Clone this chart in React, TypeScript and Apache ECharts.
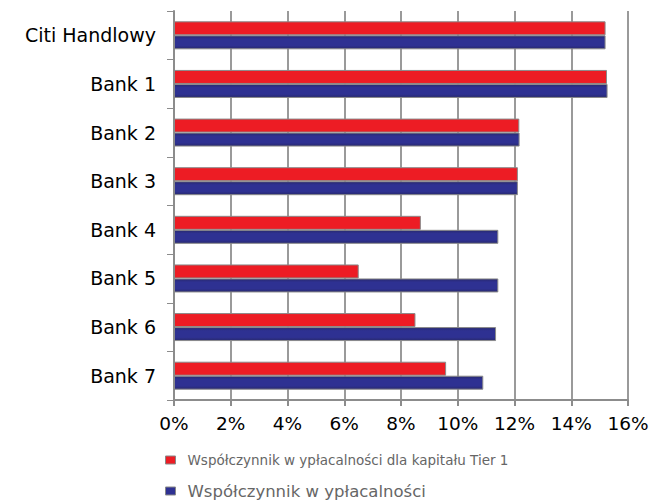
import React, { useEffect, useRef } from "react";
import * as echarts from "echarts";

const categories = ["Citi Handlowy", "Bank 1", "Bank 2", "Bank 3", "Bank 4", "Bank 5", "Bank 6", "Bank 7"];
const tier1Values = [15.21, 15.26, 12.17, 12.12, 8.7, 6.51, 8.51, 9.59];
const totalValues = [15.21, 15.28, 12.18, 12.12, 11.43, 11.43, 11.35, 10.9];
const seriesNames = ["Współczynnik w ypłacalności dla kapitału Tier 1", "Współczynnik w ypłacalności"];
const xTicks = [0, 2, 4, 6, 8, 10, 12, 14, 16];

export default function App() {
  const ref = useRef<HTMLDivElement>(null);
  useEffect(() => {
    if (!ref.current) return;
    const chart = echarts.init(ref.current, null, { renderer: "svg" });
    const blueGrad = new echarts.graphic.LinearGradient(0, 0, 0, 1, [
      { offset: 0, color: "#28296e" },
      { offset: 0.25, color: "#2E3192" },
      { offset: 0.75, color: "#2E3192" },
      { offset: 1, color: "#28296e" },
    ]);
    const legendBase = {
      orient: "horizontal",
      left: 165,
      padding: 0,
      itemWidth: 10,
      itemHeight: 8,
      icon: "rect",
    };
    chart.setOption({
      animation: false,
      backgroundColor: "#ffffff",
      textStyle: { fontFamily: "DejaVu Sans" },
      grid: { left: 174, right: 27, top: 11, bottom: 102, containLabel: false },
      legend: [
        {
          ...legendBase,
          top: 453,
          textStyle: { fontSize: 13.5, lineHeight: 14, color: "#666666", fontFamily: "DejaVu Sans", padding: [0, 0, 0, 7] },
          data: [{ name: seriesNames[0], itemStyle: { color: "#ED1C24", borderColor: "#888", borderWidth: 1 } }],
        },
        {
          ...legendBase,
          top: 482,
          textStyle: { fontSize: 16.5, lineHeight: 18, color: "#666666", fontFamily: "DejaVu Sans", padding: [0, 0, 0, 7] },
          data: [{ name: seriesNames[1], itemStyle: { color: "#2E3192", borderColor: "#888", borderWidth: 1 } }],
        },
      ],
      xAxis: {
        type: "value",
        min: xTicks[0],
        max: xTicks[xTicks.length - 1],
        interval: 2,
        axisLine: { show: true, lineStyle: { color: "#8c8c8c", width: 2 } },
        axisTick: { show: true, length: 6, lineStyle: { color: "#8c8c8c", width: 2 } },
        axisLabel: { formatter: "{value}%", fontSize: 18.5, color: "#000", margin: 14, fontFamily: "DejaVu Sans" },
        splitLine: { show: true, lineStyle: { color: "#9a9a9a", width: 2 } },
      },
      yAxis: {
        type: "category",
        data: categories,
        inverse: true,
        axisLine: { show: true, lineStyle: { color: "#8c8c8c", width: 2 } },
        axisTick: { show: true, length: 7, lineStyle: { color: "#8c8c8c", width: 1 } },
        axisLabel: { fontSize: 19, color: "#000", margin: 18, fontFamily: "DejaVu Sans" },
        splitLine: { show: false },
      },
      series: [
        {
          name: seriesNames[0],
          type: "bar",
          data: tier1Values,
          barWidth: 14,
          barGap: "0%",
          itemStyle: { color: "#ED1C24", borderColor: "#8a8a8a", borderWidth: 1 },
        },
        {
          name: seriesNames[1],
          type: "bar",
          data: totalValues,
          barWidth: 14,
          barGap: "0%",
          itemStyle: { color: blueGrad, borderColor: "#8a8a8a", borderWidth: 1 },
        },
      ],
    });
    return () => chart.dispose();
  }, []);
  return <div ref={ref} style={{ width: 655, height: 502, position: "absolute", left: 0, top: 0 }} />;
}
